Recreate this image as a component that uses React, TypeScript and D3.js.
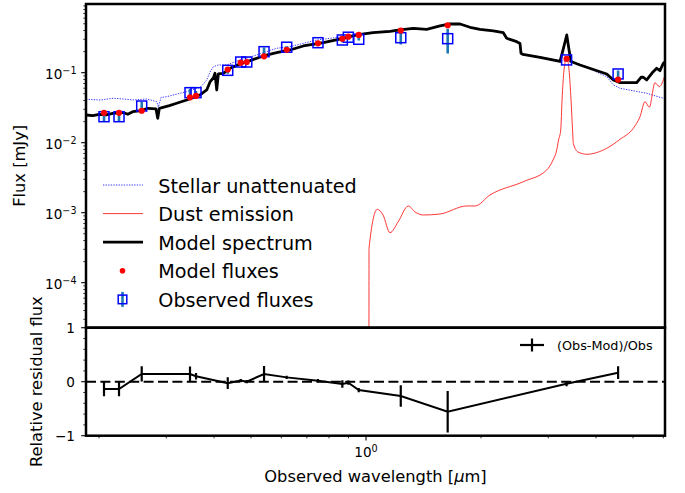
import React from 'react';
import * as d3 from 'd3';

// ---------- data ----------
const modelWl = [0.1849,0.1926,0.2003,0.2087,0.2173,0.2307,0.2378,0.2451,0.2550,0.2683,0.2820,0.2849,0.2877,0.3056,0.3194,0.3393,0.3677,0.3828,0.3905,0.3984,0.4024,0.4066,0.4106,0.4229,0.4406,0.4679,0.4970,0.5383,0.5836,0.6324,0.6852,0.7731,0.8722,0.9455,1.045,1.1556,1.2276,1.33,1.4418,1.5621,1.6594,1.7624,1.8718,1.988,2.1542,2.2876,2.3346,2.4803,2.5297,2.5455,2.5763,2.8546,3.2206,3.2792,3.3533,3.40,3.4411,3.6327,4.2677,4.4412,4.6238,5.1119,5.2468,5.3199,5.43,5.6397,5.7671,5.8827,6.0016,6.0628];
const modelFlux = [0.02487,0.0243,0.02545,0.02487,0.0263,0.02717,0.02545,0.02772,0.02837,0.0310,0.0303,0.02232,0.0310,0.03377,0.03654,0.04074,0.04801,0.0566,0.07364,0.08401,0.09804,0.0566,0.0958,0.09804,0.11558,0.13312,0.14838,0.17318,0.19307,0.21104,0.24058,0.26827,0.30994,0.34556,0.37276,0.3878,0.40738,0.4308,0.41687,0.46452,0.49618,0.49618,0.44514,0.41687,0.39424,0.37276,0.3099,0.2772,0.2613,0.1893,0.182,0.16596,0.14454,0.21104,0.34556,0.21104,0.14454,0.12882,0.0958,0.07865,0.07197,0.07197,0.08598,0.08598,0.07865,0.10233,0.11558,0.10681,0.13622,0.14222];

const stellarWl = [0.1849,0.2012,0.2181,0.2316,0.2459,0.2666,0.2833,0.2860,0.2907,0.3008,0.3259,0.3393,0.3677,0.3752,0.3828,0.3905,0.3984,0.4106,0.4318,0.4679,0.5175,0.5836,0.6324,0.7429,0.8722,1.0244,1.1556,1.2276,1.33,1.4418,1.5621,1.6594,1.7624,1.8718,1.988,2.1542,2.2876,2.3346,2.4803,2.5297,2.5455,2.5763,2.8546,3.2206,3.420,3.6327,4.2677,4.4412,4.6238,5.43,6.0016,6.0628];
const stellarFlux = [0.04169,0.04074,0.04308,0.04209,0.04074,0.04209,0.03852,0.03236,0.04421,0.0454,0.05078,0.05354,0.06188,0.06899,0.07865,0.1023,0.1218,0.1288,0.1288,0.1519,0.179,0.2232,0.2352,0.2932,0.3268,0.3776,0.3981,0.414,0.4351,0.421,0.4692,0.5012,0.5012,0.4498,0.421,0.3981,0.3752,0.312,0.279,0.265,0.1911,0.1837,0.1676,0.1494,0.1436,0.131,0.0877,0.06672,0.05983,0.05078,0.04308,0.04266];

const dustWl = [1.0176,1.0182,1.0704,1.1078,1.1556,1.2129,1.2903,1.3438,1.4125,1.5621,1.8348,1.929,2.1115,2.5809,2.9721,3.087,3.1567,3.1917,3.234,3.2598,3.2984,3.3533,3.40,3.4411,3.473,3.489,3.5892,3.7826,4.2677,4.6238,5.0082,5.2151,5.3747,5.5151,5.7085,5.859,6.0628];
const dustFlux = [1e-7,3.099e-4,1.118e-3,9.27e-4,5.18e-4,7.36e-4,1.247e-3,1.023e-3,9.27e-4,9.58e-4,1.247e-3,1.247e-3,1.79e-3,2.772e-3,4.074e-3,5.66e-3,7.865e-3,0.01093,0.01518,0.04074,0.1093,0.1622,0.1093,0.04074,0.01518,9.8e-3,7.36e-3,6.83e-3,8.32e-3,0.01118,0.01606,0.02351,0.03852,0.03204,0.07197,0.0631,0.0927];

const obsWl = [0.2061,0.2256,0.2587,0.3461,0.3589,0.4345,0.4699,0.4873,0.5408,0.6199,0.7486,0.8670,0.8989,0.9570,1.233,1.636,3.35,4.57];
const obsFlux = [0.0235,0.0235,0.0334,0.0518,0.0518,0.108,0.142,0.142,0.1995,0.231,0.268,0.293,0.321,0.300,0.316,0.306,0.152,0.0958];
const obsErr = [0.00313,0.00313,0.00468,0.00725,0.00311,0.01166,0.00426,0.00426,0.0299,0.00693,0.00804,0.0205,0.01284,0.012,0.0632,0.1178,0.0070,0.0112];
const modFlux = [0.0267,0.0267,0.0286,0.0444,0.0466,0.111,0.139,0.142,0.171,0.2125,0.263,0.305,0.327,0.3465,0.40,0.476,0.158,0.0798];

const legendLabels = ['Stellar unattenuated','Dust emission','Model spectrum','Model fluxes','Observed fluxes'];
const residLabel = '(Obs-Mod)/Obs';
const yTopMajorExps = [-1,-2,-3,-4];
const resMajor = [-1,0,1];

// ---------- layout ----------
const W = 685, H = 493;
const L = 86, R = 665, T1 = 4, B1 = 327.7, B2 = 435.7;
const FONT = 'DejaVu Sans, sans-serif';

export default function App() {
  const x = d3.scaleLog().domain([0.1849, 6.063]).range([L, R]);
  const yTop = d3.scaleLog().domain([Math.pow(10, -4.643), Math.pow(10, -0.019)]).range([B1, T1]);
  const yRes = d3.scaleLinear().domain([-1, 1]).range([B2, B1]);

  const line = d3.line<[number, number]>().x(d => x(d[0])).y(d => yTop(Math.max(d[1], 1e-9)));
  const model = line(modelWl.map((w, i) => [w, modelFlux[i]]));
  const stellar = line(stellarWl.map((w, i) => [w, stellarFlux[i]]));
  const dust = d3.line<[number, number]>().x(d => x(d[0])).y(d => yTop(Math.max(d[1], 1e-9))).curve(d3.curveMonotoneX)(dustWl.map((w, i) => [w, dustFlux[i]]));

  const resid = obsWl.map((w, i) => ({ w, r: (obsFlux[i] - modFlux[i]) / obsFlux[i], e: obsErr[i] / obsFlux[i] }));
  const resLine = d3.line<{ w: number; r: number }>().x(d => x(d.w)).y(d => yRes(d.r))(resid);

  const [d0, d1] = yTop.domain();
  const yMinor: number[] = [];
  for (let k = -6; k <= 0; k++) for (let m = 2; m <= 9; m++) { const v = m * Math.pow(10, k); if (v >= d0 && v <= d1) yMinor.push(v); }
  const resMinor: number[] = [];
  for (let v = -0.8; v < 1; v += 0.2) { const vv = Math.round(v * 10) / 10; if (Math.abs(vv) > 1e-6) resMinor.push(vv); }
  const [x0, x1] = x.domain();
  const xMinor: number[] = [];
  for (let k = -1; k <= 0; k++) for (let m = 2; m <= 9; m++) { const v = m * Math.pow(10, k); if (v >= x0 && v <= x1) xMinor.push(v); }

  const rows = [185, 213.6, 242.2, 270.8, 299.4];

  return (
    <svg width={W} height={H} style={{ position: 'absolute', left: 0, top: 0, background: '#fff' }} fontFamily={FONT}>
      <defs>
        <clipPath id="clipTop"><rect x={L} y={T1} width={R - L} height={B1 - T1} /></clipPath>
        <clipPath id="clipRes"><rect x={L} y={B1} width={R - L} height={B2 - B1} /></clipPath>
      </defs>
      <rect x={0} y={0} width={W} height={H} fill="#fff" />

      {/* top panel */}
      <g clipPath="url(#clipTop)">
        <path d={stellar || ''} fill="none" stroke="blue" strokeWidth={0.8} strokeDasharray="1.3,1.3" />
        <path d={dust || ''} fill="none" stroke="#ff2020" strokeWidth={0.9} />
        <path d={model || ''} fill="none" stroke="#000" strokeWidth={2.8} strokeLinejoin="round" />
        {obsWl.map((w, i) => (
          <line key={'e' + i} x1={x(w)} x2={x(w)} y1={yTop(obsFlux[i] + obsErr[i])} y2={yTop(Math.max(obsFlux[i] - obsErr[i], 1e-9))} stroke="#1f77b4" strokeWidth={2.6} />
        ))}
        {obsWl.map((w, i) => (
          <rect key={'s' + i} x={x(w) - 5} y={yTop(obsFlux[i]) - 5} width={10} height={10} fill="none" stroke="blue" strokeWidth={1.5} />
        ))}
        {obsWl.map((w, i) => (
          <circle key={'m' + i} cx={x(w)} cy={yTop(modFlux[i])} r={3.1} fill="red" />
        ))}
      </g>

      {/* top legend */}
      <g fontSize={19.2} fill="#000">
        <line x1={103} x2={143} y1={rows[0]} y2={rows[0]} stroke="blue" strokeWidth={0.8} strokeDasharray="1.3,1.3" />
        <line x1={103} x2={143} y1={rows[1]} y2={rows[1]} stroke="#ff2020" strokeWidth={0.9} />
        <line x1={103} x2={143} y1={rows[2]} y2={rows[2]} stroke="#000" strokeWidth={2.8} />
        <circle cx={122.5} cy={rows[3]} r={2.8} fill="red" />
        <line x1={122.5} x2={122.5} y1={rows[4] - 7.5} y2={rows[4] + 7.5} stroke="#1f77b4" strokeWidth={2.6} />
        <rect x={118.2} y={rows[4] - 4.3} width={8.6} height={8.6} fill="none" stroke="blue" strokeWidth={1.5} />
        {legendLabels.map((t, i) => (
          <text key={t} x={158.3} y={rows[i] + 7.5}>{t}</text>
        ))}
      </g>

      {/* residual panel */}
      <line x1={L} x2={R} y1={yRes(0)} y2={yRes(0)} stroke="#000" strokeWidth={2} strokeDasharray="10,4.4" />
      <g clipPath="url(#clipRes)">
        <path d={resLine || ''} fill="none" stroke="#000" strokeWidth={2} />
        {resid.map((d, i) => (
          <line key={'re' + i} x1={x(d.w)} x2={x(d.w)} y1={yRes(d.r + d.e)} y2={yRes(d.r - d.e)} stroke="#000" strokeWidth={2.2} />
        ))}
      </g>
      <line x1={520} x2={544} y1={345} y2={345} stroke="#000" strokeWidth={2.2} />
      <line x1={532} x2={532} y1={338.5} y2={351.5} stroke="#000" strokeWidth={2.2} />
      <text x={557} y={349.5} fontSize={12.8}>{residLabel}</text>

      {/* top y ticks */}
      {yMinor.map((v, i) => (
        <line key={'ym' + i} x1={L - 2.7} x2={L} y1={yTop(v)} y2={yTop(v)} stroke="#000" strokeWidth={0.8} />
      ))}
      {yTopMajorExps.map(k => {
        const yy = yTop(Math.pow(10, k));
        return (
          <g key={'yM' + k}>
            <line x1={L - 4.8} x2={L} y1={yy} y2={yy} stroke="#000" strokeWidth={1.1} />
            <text x={76.5} y={yy + 6.3} textAnchor="end" fontSize={13.6}>
              10<tspan fontSize={9.6} dy={-5.3}>{'\u2212' + Math.abs(k)}</tspan>
            </text>
          </g>
        );
      })}

      {/* residual y ticks */}
      {resMinor.map((v, i) => (
        <line key={'rm' + i} x1={L - 2.7} x2={L} y1={yRes(v)} y2={yRes(v)} stroke="#000" strokeWidth={0.8} />
      ))}
      {resMajor.map(v => (
        <g key={'rM' + v}>
          <line x1={L - 4.8} x2={L} y1={yRes(v)} y2={yRes(v)} stroke="#000" strokeWidth={1.1} />
          <text x={75} y={yRes(v) + 5} textAnchor="end" fontSize={13.6}>{v < 0 ? '\u2212' + Math.abs(v) : String(v)}</text>
        </g>
      ))}

      {/* x ticks */}
      {xMinor.map((v, i) => (
        <line key={'xm' + i} x1={x(v)} x2={x(v)} y1={B2} y2={B2 + 2.7} stroke="#000" strokeWidth={0.8} />
      ))}
      <line x1={x(1)} x2={x(1)} y1={B2} y2={B2 + 4.8} stroke="#000" strokeWidth={1.1} />
      <text x={x(1)} y={457} textAnchor="middle" fontSize={13.6}>10<tspan fontSize={9.6} dy={-5.3}>0</tspan></text>

      {/* spines */}
      <rect x={L} y={T1} width={R - L} height={B1 - T1} fill="none" stroke="#000" strokeWidth={2.5} />
      <rect x={L} y={B1} width={R - L} height={B2 - B1} fill="none" stroke="#000" strokeWidth={2.5} />

      {/* axis labels */}
      <text x={375.5} y={482} textAnchor="middle" fontSize={16.3}>Observed wavelength [<tspan fontStyle="italic">μ</tspan>m]</text>
      <text transform={`translate(25,${(T1 + B1) / 2}) rotate(-90)`} textAnchor="middle" fontSize={16.3}>Flux [mJy]</text>
      <text transform={`translate(41.5,${(B1 + B2) / 2}) rotate(-90)`} textAnchor="middle" fontSize={16.3}>Relative residual flux</text>
    </svg>
  );
}
